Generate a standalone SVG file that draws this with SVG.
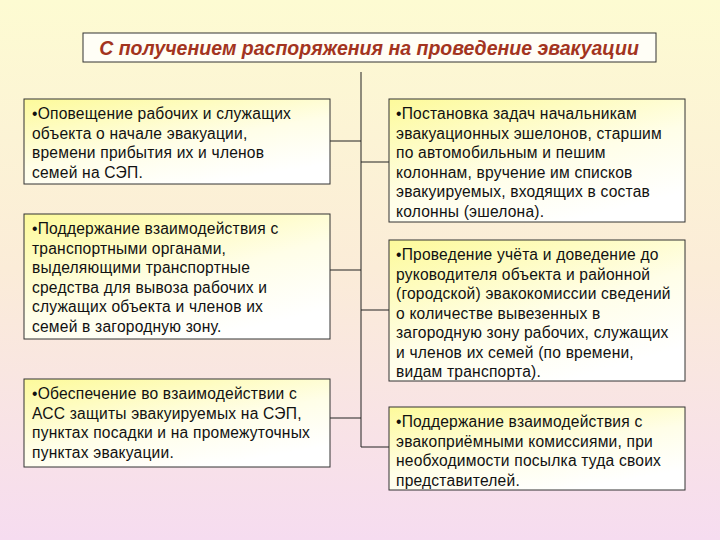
<svg xmlns="http://www.w3.org/2000/svg" width="720" height="540" viewBox="0 0 720 540">
<defs>
<linearGradient id="bg" x1="0" y1="0" x2="0" y2="1"><stop offset="0" stop-color="#fdfbd2"/><stop offset="0.5" stop-color="#fbecd8"/><stop offset="1" stop-color="#f6dcf0"/></linearGradient>
<linearGradient id="bx" x1="0" y1="0" x2="0.6" y2="1"><stop offset="0" stop-color="#fdfa9a"/><stop offset="0.6" stop-color="#fffee8"/><stop offset="1" stop-color="#ffffff"/></linearGradient>
<style>
.b{fill:url(#bx);stroke:#333;stroke-width:1}
.t{font-family:"Liberation Sans",Arial,sans-serif;font-size:15.6px;letter-spacing:0.2px;fill:#111}
.c{stroke:#222;stroke-width:1;fill:none}
</style>
</defs>
<rect width="720" height="540" fill="url(#bg)"/>
<g id="title"><rect x="83" y="33" width="573" height="29" fill="#fffef6" stroke="#333"/>
<text x="369" y="55" text-anchor="middle" font-family="Liberation Sans,Arial,sans-serif" font-size="19.5" font-weight="bold" font-style="italic" fill="#a3341e">С получением распоряжения на проведение эвакуации</text></g>
<g id="connectors" class="c">
<path class="c" d="M361 72V447M330 141H361M361 162H389M330 270H361M361 310H389M330 418H361M361 447H389"/>
</g>
<g id="l1"><rect class="b" x="24" y="99" width="306" height="85"/>
<text class="t" x="32" y="119"><tspan x="32">•Оповещение рабочих и служащих</tspan><tspan x="32" dy="19.5">объекта о начале эвакуации,</tspan><tspan x="32" dy="19.5">времени прибытия их и членов</tspan><tspan x="32" dy="19.5">семей на СЭП.</tspan></text></g>
<g id="l2"><rect class="b" x="24" y="214" width="306" height="125"/>
<text class="t" x="32" y="234"><tspan x="32">•Поддержание взаимодействия с</tspan><tspan x="32" dy="19.5">транспортными органами,</tspan><tspan x="32" dy="19.5">выделяющими транспортные</tspan><tspan x="32" dy="19.5">средства для вывоза рабочих и</tspan><tspan x="32" dy="19.5">служащих объекта и членов их</tspan><tspan x="32" dy="19.5">семей в загородную зону.</tspan></text></g>
<g id="l3"><rect class="b" x="24" y="379" width="306" height="88"/>
<text class="t" x="32" y="399"><tspan x="32">•Обеспечение во взаимодействии с</tspan><tspan x="32" dy="19.5">АСС защиты эвакуируемых на СЭП,</tspan><tspan x="32" dy="19.5">пунктах посадки и на промежуточных</tspan><tspan x="32" dy="19.5">пунктах эвакуации.</tspan></text></g>
<g id="r1"><rect class="b" x="389" y="99" width="296" height="123"/>
<text class="t" x="396" y="119"><tspan x="396">•Постановка задач начальникам</tspan><tspan x="396" dy="19.5">эвакуационных эшелонов, старшим</tspan><tspan x="396" dy="19.5">по автомобильным и пешим</tspan><tspan x="396" dy="19.5">колоннам, вручение им списков</tspan><tspan x="396" dy="19.5">эвакуируемых, входящих в состав</tspan><tspan x="396" dy="19.5">колонны (эшелона).</tspan></text></g>
<g id="r2"><rect class="b" x="389" y="240" width="296" height="141"/>
<text class="t" x="396" y="260"><tspan x="396">•Проведение учёта и доведение до</tspan><tspan x="396" dy="19.5">руководителя объекта и районной</tspan><tspan x="396" dy="19.5">(городской) эвакокомиссии сведений</tspan><tspan x="396" dy="19.5">о количестве вывезенных в</tspan><tspan x="396" dy="19.5">загородную зону рабочих, служащих</tspan><tspan x="396" dy="19.5">и членов их семей (по времени,</tspan><tspan x="396" dy="19.5">видам транспорта).</tspan></text></g>
<g id="r3"><rect class="b" x="389" y="407" width="296" height="83"/>
<text class="t" x="396" y="427"><tspan x="396">•Поддержание взаимодействия с</tspan><tspan x="396" dy="19.5">эвакоприёмными комиссиями, при</tspan><tspan x="396" dy="19.5">необходимости посылка туда своих</tspan><tspan x="396" dy="19.5">представителей.</tspan></text></g>
</svg>
